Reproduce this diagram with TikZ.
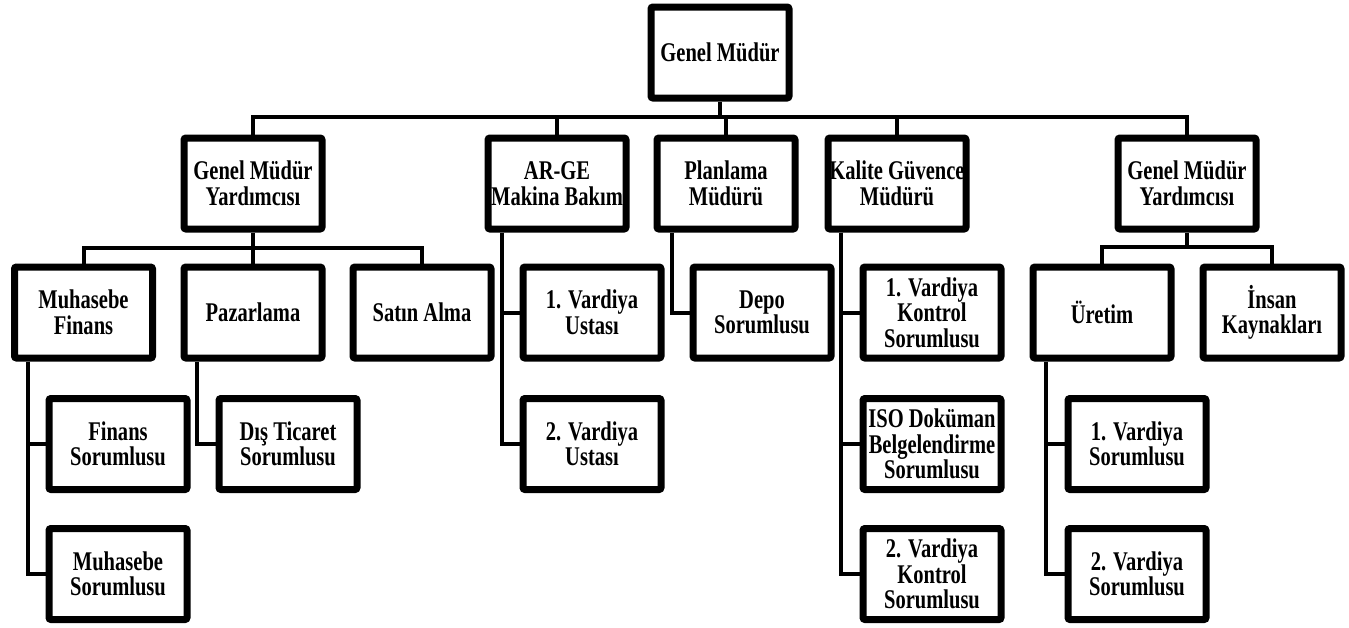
\documentclass[tikz,border=0pt]{standalone}
\usepackage{fontspec}
\setmainfont{Liberation Serif}[FakeStretch=0.76]
\usetikzlibrary{shadows}
\pgfdeclarelayer{bg}
\pgfsetlayers{bg,main}
\begin{document}
\begin{tikzpicture}[x=1pt,y=-1pt,
  box/.style={draw=black,line width=7pt,fill=white,rounded corners=2pt,
    minimum width=138pt,minimum height=91pt,inner sep=0pt,align=center,
    font=\fontsize{27}{25.5}\selectfont\bfseries,
    drop shadow={shadow xshift=2pt,shadow yshift=-2pt,opacity=0.25}},
  conn/.style={line width=4pt,line join=miter,draw=black}]
\useasboundingbox (0,0) rectangle (1349,627);
% level 1
\node[box] (gm) at (720,52.5) {Genel Müdür};
% level 2
\node[box] (gmyl) at (253,183.5) {Genel Müdür\\Yardımcısı};
\node[box] (arge) at (557,183.5) {AR-GE\\Makina Bakım};
\node[box] (plan) at (726,183.5) {Planlama\\Müdürü};
\node[box] (kal)  at (897,183.5) {Kalite Güvence\\Müdürü};
\node[box] (gmyr) at (1187,183.5) {Genel Müdür\\Yardımcısı};
% level 3
\node[box] (mf)   at (83.5,312.5) {Muhasebe\\Finans};
\node[box] (paz)  at (253,312.5) {Pazarlama};
\node[box] (sat)  at (422,312.5) {Satın Alma};
\node[box] (v1u)  at (592,312.5) {1. Vardiya\\Ustası};
\node[box] (depo) at (762,312.5) {Depo\\Sorumlusu};
\node[box] (v1k)  at (932,312.5) {1. Vardiya\\Kontrol\\Sorumlusu};
\node[box] (ur)   at (1102,312.5) {Üretim};
\node[box] (ik)   at (1272,312.5) {İnsan\\Kaynakları};
% level 4
\node[box] (fs)   at (118,444) {Finans\\Sorumlusu};
\node[box] (dt)   at (288,444) {Dış Ticaret\\Sorumlusu};
\node[box] (v2u)  at (592,444) {2. Vardiya\\Ustası};
\node[box] (iso)  at (932,444) {ISO Doküman\\Belgelendirme\\Sorumlusu};
\node[box] (v1s)  at (1137,444) {1. Vardiya\\Sorumlusu};
% level 5
\node[box] (ms)   at (118,574) {Muhasebe\\Sorumlusu};
\node[box] (v2k)  at (932,574) {2. Vardiya\\Kontrol\\Sorumlusu};
\node[box] (v2s)  at (1137,574) {2. Vardiya\\Sorumlusu};
% bus coordinates
\coordinate (bus1) at (720,117);
\coordinate (bus2) at (253,248);
\coordinate (bus3) at (1187,247);
\begin{pgfonlayer}{bg}
  \draw[conn] (gm.south) -- (bus1);
  \draw[conn] (gmyl.north) |- (bus1) -| (gmyr.north);
  \draw[conn] (arge.north) -- (arge.north |- bus1);
  \draw[conn] (plan.north) -- (plan.north |- bus1);
  \draw[conn] (kal.north) -- (kal.north |- bus1);
  % left deputy
  \draw[conn] (gmyl.south) -- (paz.north);
  \draw[conn] (mf.north) |- (bus2) -| (sat.north);
  % right deputy
  \draw[conn] (gmyr.south) -- (bus3);
  \draw[conn] (ur.north) |- (bus3) -| (ik.north);
  % side branches
  \draw[conn] ([xshift=-55.5pt]mf.south) |- (ms.west);
  \draw[conn] ([xshift=-55.5pt]mf.south) |- (fs.west);
  \draw[conn] ([xshift=-56pt]paz.south) |- (dt.west);
  \draw[conn] ([xshift=-55pt]arge.south) |- (v2u.west);
  \draw[conn] ([xshift=-55pt]arge.south) |- (v1u.west);
  \draw[conn] ([xshift=-54pt]plan.south) |- (depo.west);
  \draw[conn] ([xshift=-56pt]kal.south) |- (v2k.west);
  \draw[conn] ([xshift=-56pt]kal.south) |- (iso.west);
  \draw[conn] ([xshift=-56pt]kal.south) |- (v1k.west);
  \draw[conn] ([xshift=-56pt]ur.south) |- (v2s.west);
  \draw[conn] ([xshift=-56pt]ur.south) |- (v1s.west);
\end{pgfonlayer}
\end{tikzpicture}
\end{document}
